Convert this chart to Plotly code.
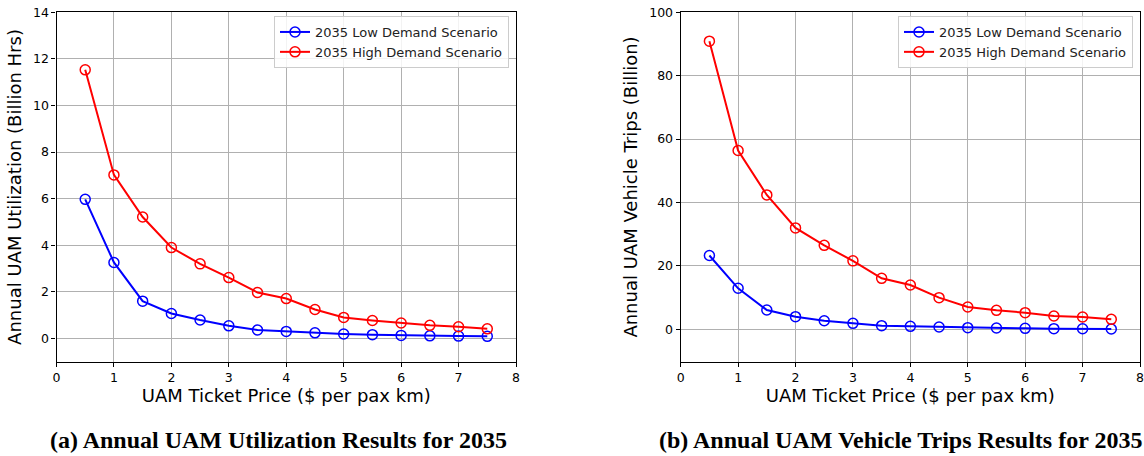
import plotly.graph_objects as go

price = [0.5, 1.0, 1.5, 2.0, 2.5, 3.0, 3.5, 4.0, 4.5, 5.0, 5.5, 6.0, 6.5, 7.0, 7.5]

util_low = [5.97, 3.26, 1.60, 1.07, 0.79, 0.54, 0.36, 0.30, 0.24, 0.19, 0.16, 0.13, 0.11, 0.10, 0.09]
util_high = [11.53, 7.02, 5.21, 3.90, 3.20, 2.61, 1.97, 1.71, 1.24, 0.90, 0.77, 0.66, 0.56, 0.50, 0.41]

trips_low = [23.3, 12.95, 6.1, 4.0, 2.7, 1.9, 1.16, 0.95, 0.74, 0.53, 0.42, 0.32, 0.21, 0.20, 0.10]
trips_high = [90.9, 56.4, 42.4, 32.0, 26.5, 21.6, 16.1, 14.0, 10.0, 7.05, 6.0, 5.26, 4.2, 3.9, 3.16]

series_names = ["2035 Low Demand Scenario", "2035 High Demand Scenario"]
series_colors = ["blue", "red"]
x_title = "UAM Ticket Price ($ per pax km)"
y_titles = ["Annual UAM Utilization (Billion Hrs)", "Annual UAM Vehicle Trips (Billion)"]
captions = ["(a) Annual UAM Utilization Results for 2035", "(b) Annual UAM Vehicle Trips Results for 2035"]

W, H = 1144, 456
FONT = "DejaVu Sans"

fig = go.Figure()

panels = [
    ("x", "y", "legend", [util_low, util_high]),
    ("x2", "y2", "legend2", [trips_low, trips_high]),
]
for xa, ya, lg, data in panels:
    for name, color, vals in zip(series_names, series_colors, data):
        fig.add_trace(go.Scatter(
            x=price, y=vals, mode="lines+markers", name=name,
            line=dict(color=color, width=2),
            marker=dict(symbol="circle-open", size=10, color=color, line=dict(width=1.5, color=color)),
            xaxis=xa, yaxis=ya, legend=lg,
        ))

def xaxis(domain, anchor):
    return dict(
        domain=domain, anchor=anchor, range=[0, 8], dtick=1, tick0=0,
        showgrid=True, gridcolor="#b0b0b0", gridwidth=1,
        showline=True, linecolor="black", linewidth=1.3, mirror=True,
        ticks="outside", ticklen=4, tickcolor="black", tickwidth=1,
        zeroline=False, automargin=False, ticklabeloverflow="allow",
        tickfont=dict(family=FONT, size=12.5, color="black"),
        title=dict(text=x_title, font=dict(family=FONT, size=18, color="black"), standoff=5),
    )

def yaxis(domain, anchor, rng, dt, title):
    return dict(
        domain=domain, anchor=anchor, range=rng, dtick=dt, tick0=0,
        showgrid=True, gridcolor="#b0b0b0", gridwidth=1,
        showline=True, linecolor="black", linewidth=1.3, mirror=True,
        ticks="outside", ticklen=4, tickcolor="black", tickwidth=1,
        zeroline=False, automargin=False, ticklabeloverflow="allow",
        tickfont=dict(family=FONT, size=12.5, color="black"),
        title=dict(text=title, font=dict(family=FONT, size=18, color="black"), standoff=6),
    )

ydom = [1 - 361.7 / H, 1 - 12.3 / H]
x1dom = [56.5 / W, 516 / W]
x2dom = [680.7 / W, 1140 / W]

legend_common = dict(
    bgcolor="rgba(255,255,255,0.85)", bordercolor="#cccccc", borderwidth=1,
    font=dict(family=FONT, size=13, color="#222222"),
    yanchor="top", xanchor="right", tracegroupgap=0,
)

fig.update_layout(
    width=W, height=H,
    margin=dict(l=0, r=0, t=0, b=0),
    paper_bgcolor="white", plot_bgcolor="white",
    xaxis=xaxis(x1dom, "y"),
    yaxis=yaxis(ydom, "x", [-1, 14], 2, y_titles[0]),
    xaxis2=xaxis(x2dom, "y2"),
    yaxis2=yaxis(ydom, "x2", [-10.2, 100], 20, y_titles[1]),
    legend=dict(x=509 / W, y=1 - 16 / H, **legend_common),
    legend2=dict(x=1133 / W, y=1 - 16 / H, **legend_common),
    annotations=[
        dict(text=captions[0], x=278 / W, y=1 - 440 / H, xref="paper", yref="paper",
             showarrow=False, xanchor="center", yanchor="middle",
             font=dict(family="Liberation Serif", size=24, color="black", weight="bold")),
        dict(text=captions[1], x=900 / W, y=1 - 440 / H, xref="paper", yref="paper",
             showarrow=False, xanchor="center", yanchor="middle",
             font=dict(family="Liberation Serif", size=24, color="black", weight="bold")),
    ],
)

fig.write_html("out.html")
